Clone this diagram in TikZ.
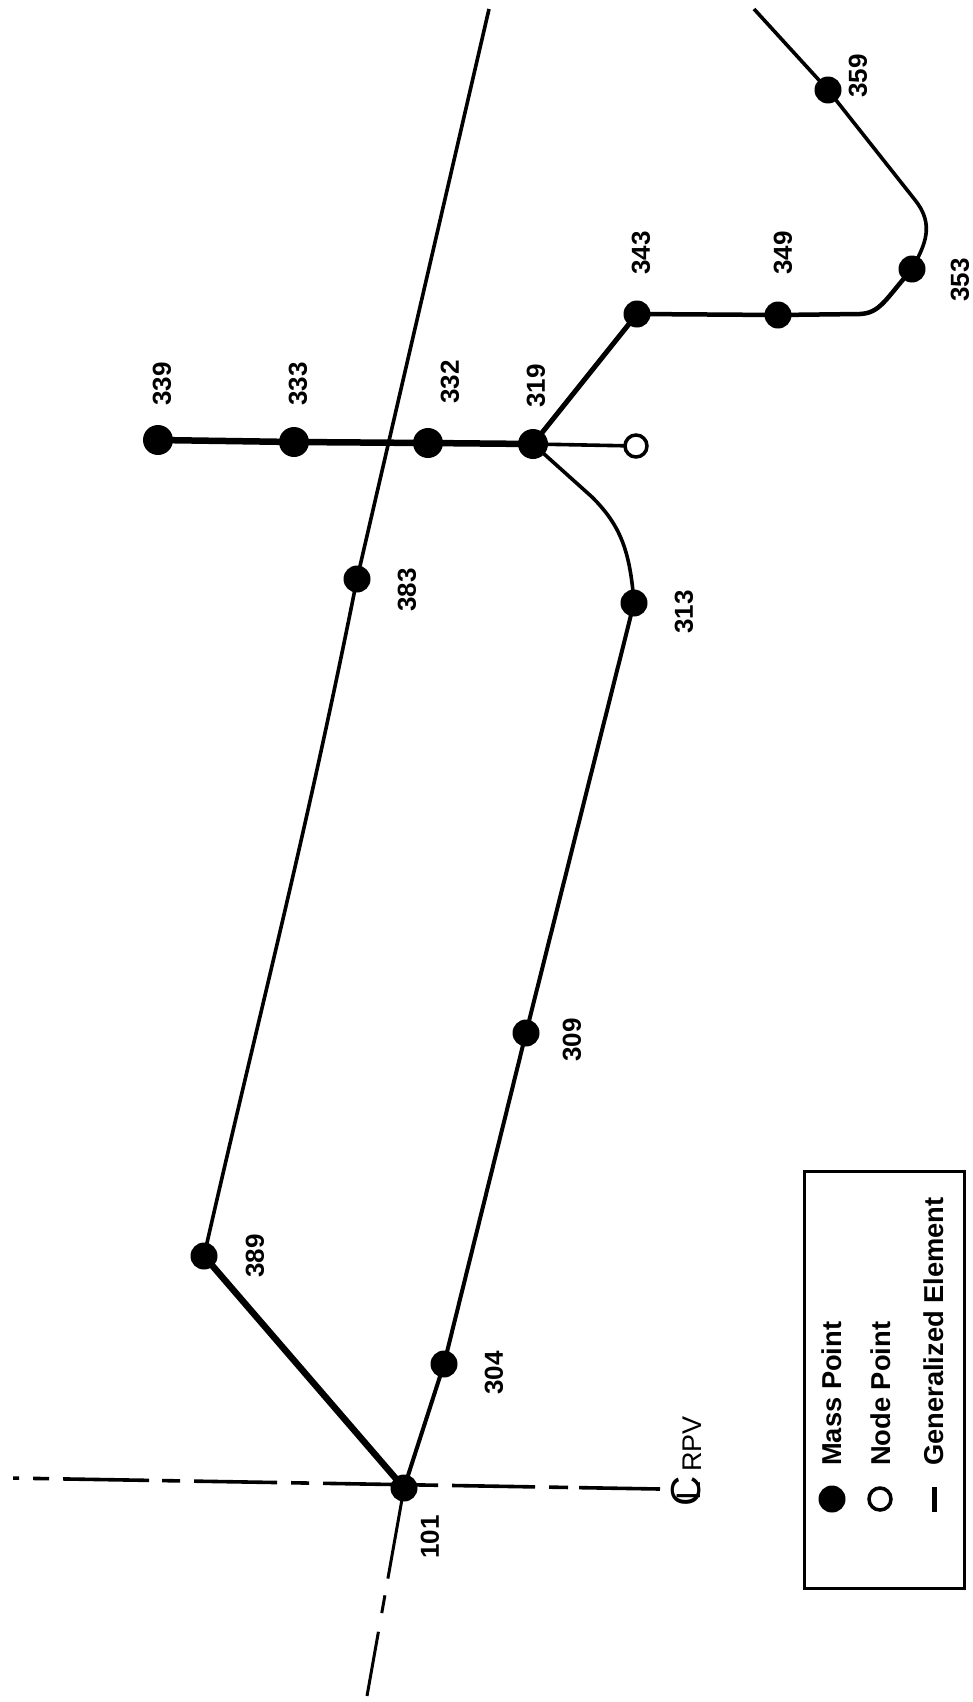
\documentclass[tikz,border=0pt]{standalone}
\usepackage{fontspec}
\setmainfont{Liberation Sans}
\pgfdeclarelayer{under}
\pgfsetlayers{under,main}
\begin{document}
\begin{tikzpicture}[x=1pt,y=-1pt,
  mass/.style={circle,fill=black,draw=none,inner sep=0pt,minimum size=27pt},
  massb/.style={circle,fill=black,draw=none,inner sep=0pt,minimum size=30pt},
  open/.style={circle,fill=white,draw=black,line width=3.5pt,inner sep=0pt,minimum size=22pt},
  wire/.style={line width=3.6pt},
  heavy/.style={line width=6.5pt},
  lab/.style={rotate=90,font=\fontsize{26}{26}\selectfont\bfseries,inner sep=0pt},
  leg/.style={rotate=90,anchor=west,font=\fontsize{27.3}{28}\selectfont\bfseries,inner sep=0pt}]
\useasboundingbox (0,0) rectangle (972,1702);
% free ends
\coordinate (topA) at (489,9);
\coordinate (topB) at (754,9);
\coordinate (clL) at (9,1478);
\coordinate (clR) at (660,1489);
\coordinate (bot) at (367,1696);
% nodes
\node[massb] (n339) at (158,440) {};
\node[massb] (n333) at (294,442) {};
\node[massb] (n332) at (428,443) {};
\node[massb] (n319) at (533,444) {};
\node[open] (n0) at (636,446) {};
\node[mass] (n383) at (357,579) {};
\node[mass] (n313) at (634,603) {};
\node[mass] (n309) at (526,1033) {};
\node[mass] (n304) at (444,1364) {};
\node[mass] (n101) at (404,1488) {};
\node[mass] (n389) at (204,1256) {};
\node[mass] (n343) at (637,314) {};
\node[mass] (n349) at (778,315) {};
\node[mass] (n353) at (912,269) {};
\node[mass] (n359) at (828,90) {};
% connectors
\begin{pgfonlayer}{under}
\draw[line width=3.6pt,dash pattern=on 81pt off 11pt on 19pt off 14pt on 83pt off 14pt on 115pt off 14pt on 18pt off 14pt on 83pt off 14pt on 18pt off 13pt on 86pt off 14pt on 16pt off 14pt on 6pt off 500pt] (clR) -- (clL);
\draw[line width=3pt,dash pattern=on 92pt off 17pt on 18pt off 19pt on 70pt off 500pt] (n101.center) -- (bot);
\draw[wire] (topA) -- (n383.center) .. controls (305,840) and (260,1010) .. (n389.center);
\draw[heavy] (n389.center) -- (n101.center);
\draw[line width=4pt] (n101.center) -- (n304.center) -- (n309.center) -- (n313.center);
\draw[wire] (n313.center) .. controls (630,550) and (620,525) .. (592,497) -- (n319.center);
\draw[heavy] (n339.center) -- (n333.center) -- (n332.center) -- (n319.center);
\draw[wire] (n319.center) -- (n0.center);
\draw[line width=5pt] (n319.center) -- (n343.center);
\draw[line width=4.5pt] (n343.center) -- (n349.center) -- (860,314) .. controls (880,313) and (885,300) .. (n353.center);
\draw[wire] (n353.center) .. controls (925,245) and (935,225) .. (915,200) -- (n359.center) -- (topB);
\end{pgfonlayer}
% labels
\node[lab] (l339) at (162,384) {339};
\node[lab] (l333) at (298,384) {333};
\node[lab] (l332) at (450,382) {332};
\node[lab] (l319) at (536,386) {319};
\node[lab] (l343) at (641,253) {343};
\node[lab] (l349) at (783,253) {349};
\node[lab] (l353) at (960,280) {353};
\node[lab] (l359) at (858,76) {359};
\node[lab] (l383) at (407,590) {383};
\node[lab] (l313) at (684,612) {313};
\node[lab] (l309) at (572,1040) {309};
\node[lab] (l304) at (494,1373) {304};
\node[lab] (l389) at (255,1256) {389};
\node[lab] (l101) at (430,1537) {101};
\node[lab,font=\fontsize{27}{27}\selectfont] (lrpv) at (692,1444) {RPV};
\node[lab,font=\fontsize{42}{42}\selectfont] (lcl) at (686,1491) {\makebox[0pt]{C}\makebox[0pt]{\fontsize{34}{34}\selectfont L}};
% legend
\draw[line width=3pt] (804,1171) rectangle (964,1588);
\node[mass] (lg1) at (832,1499) {};
\node[open] (lg2) at (880,1499) {};
\coordinate (lg3a) at (934,1487);
\coordinate (lg3b) at (934,1512);
\draw[line width=5pt] (lg3a) -- (lg3b);
\node[leg] (t1) at (832,1466) {Mass Point};
\node[leg] (t2) at (881,1466) {Node Point};
\node[leg] (t3) at (934,1466) {Generalized Element};
\end{tikzpicture}
\end{document}
